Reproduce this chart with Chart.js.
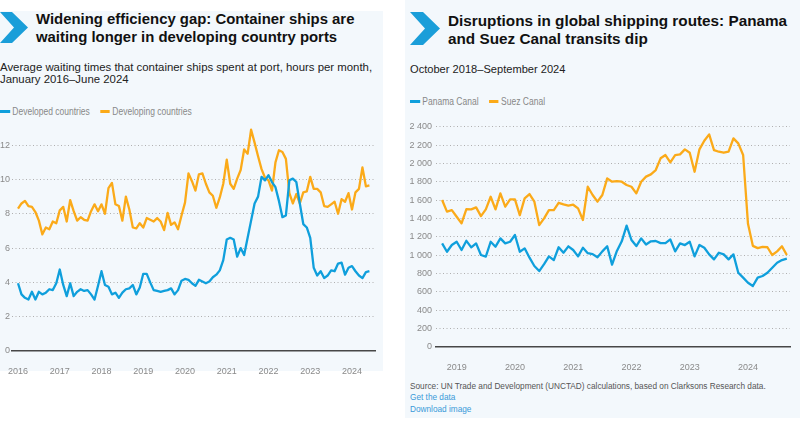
<!DOCTYPE html>
<html lang="en">
<head>
<meta charset="UTF-8">
<title>Shipping waiting times and canal transits</title>
<script src="https://cdn.jsdelivr.net/npm/chart.js@4.4.1/dist/chart.umd.min.js"></script>
<style>
body { margin:0; width:800px; height:422px; background:#fff; position:relative; overflow:hidden; font-family:'Liberation Sans', Arial, sans-serif; }
.panel { position:absolute; background:#f3f8fc; }
#leftPanel { left:0; top:11px; width:383px; height:360px; }
#rightPanel { left:405px; top:0; width:395px; height:418px; }
.chev { position:absolute; }
.title { position:absolute; font-weight:bold; line-height:17.5px; color:#111; white-space:nowrap; }
.sub { position:absolute; line-height:12px; color:#222; white-space:nowrap; }
.legend { position:absolute; font-size:10px; line-height:12px; color:#888; white-space:nowrap; transform:scaleX(0.85); transform-origin:0 0; }
.legend .item { display:inline-block; margin-right:12px; }
.legend .sw { display:inline-block; width:11.5px; height:3px; vertical-align:middle; margin-right:3px; position:relative; top:-1px; }
.source { position:absolute; left:410px; top:380px; font-size:9.6px; line-height:11.3px; color:#555; white-space:nowrap; transform:scaleX(0.86); transform-origin:0 0; }
.source .link { color:#3a9ad9; }
canvas { position:absolute; }
</style>
</head>
<body>
<div class="panel" id="leftPanel"></div>
<div class="panel" id="rightPanel"></div>

<!-- left block -->
<svg class="chev" style="left:0;top:12px" width="28" height="32"><polygon points="0,0 12,0 28,15.5 12,31 0,31 14,15.5" fill="#1a9ed9"/></svg>
<div class="title" style="left:36px;top:11px;font-size:14.9px">Widening efficiency gap: Container ships are<br>waiting longer in developing country ports</div>
<div class="sub" style="left:0;top:60.5px;font-size:11.4px">Average waiting times that container ships spent at port, hours per month,<br>January 2016–June 2024</div>
<div class="legend" id="leftLegend" style="left:0;top:106px"></div>
<canvas id="leftChart" width="383" height="255" style="left:0;top:120px"></canvas>

<!-- right block -->
<svg class="chev" style="left:410px;top:12px" width="30" height="34"><polygon points="0,0 13,0 30,16.5 13,33 0,33 15,16.5" fill="#1a9ed9"/></svg>
<div class="title" style="left:448px;top:12px;font-size:15.3px">Disruptions in global shipping routes: Panama<br>and Suez Canal transits dip</div>
<div class="sub" style="left:410px;top:62.5px;font-size:11.1px">October 2018–September 2024</div>
<div class="legend" id="rightLegend" style="left:410px;top:96px"></div>
<canvas id="rightChart" width="395" height="265" style="left:405px;top:110px"></canvas>
<div class="source">Source: UN Trade and Development (UNCTAD) calculations, based on Clarksons Research data.<br><span class="link">Get the data</span><br><span class="link">Download image</span></div>

<script>
// ---- left chart data: hours per month, Jan 2016 - Jun 2024 ----
const leftStart = [2016, 1];
const leftNames = ['Developed countries', 'Developing countries'];
const developed = [
  3.95, 3.3, 3.1, 3.0, 3.45, 3.0, 3.45, 3.3, 3.4, 3.6, 3.55, 3.95,
  4.75, 3.85, 3.2, 3.95, 3.2, 3.45, 3.6, 3.5, 3.55, 3.3, 3.0, 3.8,
  4.65, 3.85, 3.75, 3.3, 3.4, 3.1, 3.4, 3.6, 3.65, 3.85, 3.3, 3.7,
  4.5, 4.5, 4.0, 3.55, 3.5, 3.45, 3.5, 3.55, 3.65, 3.3, 3.55, 4.1,
  4.2, 4.15, 3.95, 3.8, 4.15, 4.05, 3.95, 4.05, 4.3, 4.45, 4.7, 5.3,
  6.5, 6.6, 6.5, 5.5, 6.0, 5.6, 6.6, 7.6, 8.6, 9.0, 10.15, 9.95,
  10.25, 9.85, 9.55, 8.75, 7.8, 7.9, 9.95, 10.05, 9.85, 8.6, 7.4, 7.2,
  6.6, 4.85, 4.4, 4.65, 4.25, 4.4, 4.7, 4.65, 5.1, 5.15, 4.45, 4.85,
  4.95, 4.65, 4.4, 4.25, 4.6, 4.65
];
const developing = [
  8.3, 8.6, 8.75, 8.45, 8.4, 8.1, 7.6, 6.8, 7.2, 7.1, 7.55, 7.45,
  8.2, 8.4, 7.55, 8.8, 8.15, 7.6, 7.8, 7.65, 7.6, 8.15, 8.55, 8.15,
  8.55, 8.0, 9.5, 9.8, 8.55, 8.45, 7.6, 9.0, 8.25, 7.2, 7.15, 7.45,
  7.2, 7.75, 7.65, 7.55, 7.75, 7.55, 7.05, 8.05, 7.35, 7.5, 7.1, 7.9,
  8.65, 10.35, 9.9, 9.35, 10.3, 10.35, 9.75, 9.25, 9.05, 8.35, 8.95, 9.75,
  11.15, 9.75, 9.45, 10.05, 10.55, 11.75, 11.5, 12.9, 12.15, 11.35, 10.6, 10.1,
  9.95, 9.35, 11.0, 11.7, 11.6, 11.2, 9.2, 8.6, 9.15, 8.6, 9.25, 9.3,
  10.15, 9.45, 9.45, 9.25, 8.45, 8.4, 8.55, 8.7, 8.0, 8.85, 8.7, 9.2,
  8.25, 9.25, 9.45, 10.7, 9.6, 9.65
];
const leftYears = [2016, 2017, 2018, 2019, 2020, 2021, 2022, 2023, 2024];
const leftYTicks = [0, 2, 4, 6, 8, 10, 12];

// ---- right chart data: monthly transits, Oct 2018 - Sep 2024 ----
const rightStart = [2018, 10];
const rightNames = ['Panama Canal', 'Suez Canal'];
const panama = [
  1127, 1036, 1109, 1145, 1055, 1155, 1084, 1127, 1000, 982, 1145, 1091,
  1182, 1127, 1145, 1218, 1036, 1073, 971, 880, 825, 900, 985, 945,
  1085, 1025, 1095, 1055, 985, 1080, 1020, 1010, 975, 1040, 1095, 895,
  1045, 1150, 1320, 1164, 1098, 1182, 1115, 1150, 1153, 1130, 1130, 1170,
  1040, 1127, 1109, 1145, 985, 1110, 1080, 1007, 953, 1025, 1007, 953,
  1007, 807, 753, 698, 662, 753, 771, 807, 862, 916, 945, 960
];
const suez = [
  1600, 1473, 1490, 1418, 1345, 1500, 1498, 1520, 1425, 1498, 1636, 1498,
  1673, 1527, 1607, 1607, 1436, 1618, 1665, 1582, 1327, 1400, 1490, 1490,
  1570, 1553, 1538, 1549, 1509, 1382, 1745, 1655, 1582, 1655, 1836, 1800,
  1807, 1800, 1764, 1745, 1673, 1800, 1855, 1880, 1927, 2055, 2091, 2011,
  2091, 2098, 2153, 2116, 1909, 2153, 2247, 2316, 2145, 2127, 2116, 2127,
  2273, 2218, 2091, 1340, 1100, 1075, 1090, 1085, 1000, 1040, 1095, 1000
];
const rightYears = [2019, 2020, 2021, 2022, 2023, 2024];
const rightYTicks = [0, 200, 400, 600, 800, 1000, 1200, 1400, 1600, 1800, 2000, 2200, 2400];

const colors = ['#0f9fdc', '#fbaa19'];

// month index -> fractional year on the x scale
function toPoints(start, values) {
  return values.map((v, i) => ({x: start[0] + (start[1] - 1 + i) / 12, y: v}));
}

function makeLegend(id, names) {
  document.getElementById(id).innerHTML = names.map((n, i) =>
    '<span class="item"><span class="sw" style="background:' + colors[i] + '"></span>' + n + '</span>').join('');
}
makeLegend('leftLegend', leftNames);
makeLegend('rightLegend', rightNames);

const tickFont = {family: "'Liberation Sans', sans-serif", size: 9};

function spaced(v) {
  return String(v).replace(/\B(?=(\d{3})+(?!\d))/g, ' ');
}

function buildChart(id, cfg) {
  const ctx = document.getElementById(id).getContext('2d');
  return new Chart(ctx, {
    type: 'line',
    data: {
      datasets: cfg.series.map((s, i) => ({
        label: cfg.names[i],
        data: toPoints(cfg.start, s),
        borderColor: colors[i],
        backgroundColor: colors[i],
        borderWidth: 2.3,
        pointRadius: 0,
        tension: 0,
        fill: false,
        borderJoinStyle: 'round'
      }))
    },
    options: {
      responsive: false,
      animation: false,
      layout: {padding: cfg.padding},
      plugins: {legend: {display: false}, tooltip: {enabled: false}},
      scales: {
        x: {
          type: 'linear',
          min: cfg.xMin,
          max: cfg.xMax,
          afterBuildTicks: s => { s.ticks = cfg.years.map(v => ({value: v})); },
          afterFit: s => { s.height = cfg.xHeight; },
          ticks: {color: '#8a8a8a', font: tickFont, padding: 7, maxRotation: 0, autoSkip: false,
                  callback: v => String(Math.round(v))},
          grid: {display: false},
          border: {display: true, color: '#474747', width: 1.5}
        },
        y: {
          min: 0,
          max: cfg.yMax,
          afterBuildTicks: s => { s.ticks = cfg.yTicks.map(v => ({value: v})); },
          afterFit: s => { s.width = cfg.yWidth; },
          ticks: {color: '#8a8a8a', font: tickFont, padding: cfg.yPad, callback: v => spaced(v)},
          grid: {drawTicks: false, color: c => c.tick && c.tick.value === 0 ? 'rgba(0,0,0,0)' : '#b0b0b0', lineWidth: 1},
          border: {display: false, dash: [1, 2.5]}
        }
      }
    }
  });
}

buildChart('leftChart', {
  series: [developed, developing], names: leftNames, start: leftStart,
  years: leftYears, yTicks: leftYTicks, yMax: 13,
  xMin: 2015.856, xMax: 2024.551, xHeight: 24, yWidth: 12, yPad: 2,
  padding: {top: 8, right: 8, left: 0, bottom: 0}
});

buildChart('rightChart', {
  series: [panama, suez], names: rightNames, start: rightStart,
  years: rightYears, yTicks: rightYTicks, yMax: 2400,
  xMin: 2018.645, xMax: 2024.721, xHeight: 28.3, yWidth: 31, yPad: 4,
  padding: {top: 16.7, right: 10, left: 0, bottom: 0}
});
</script>
</body>
</html>
